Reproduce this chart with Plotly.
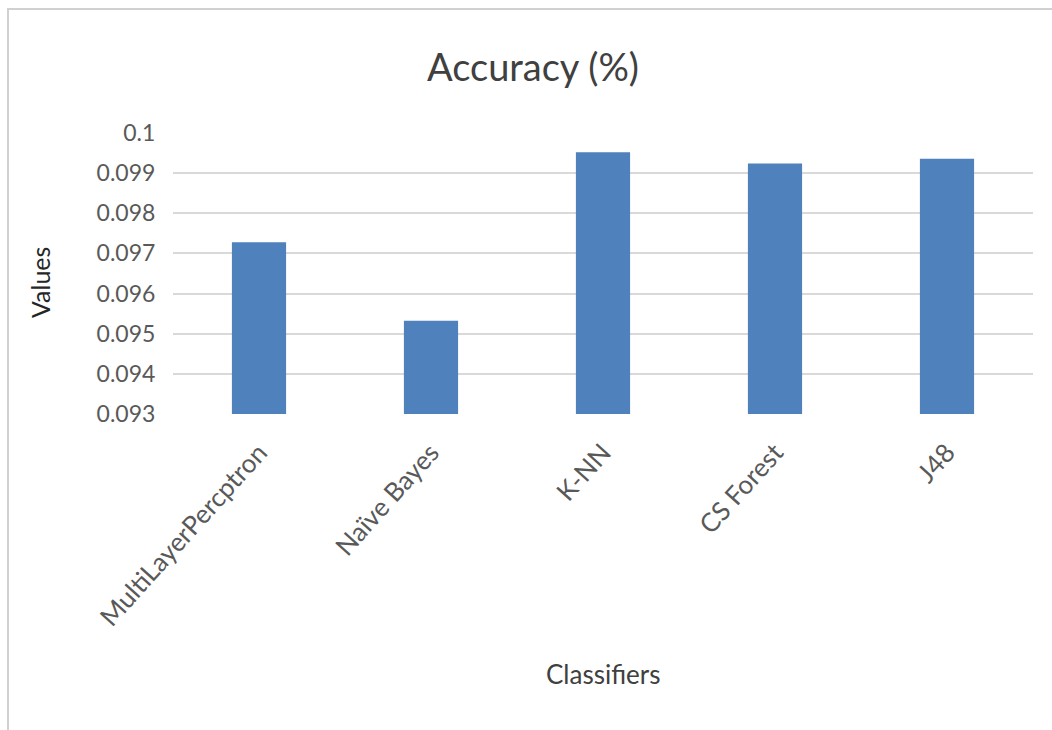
import plotly.graph_objects as go

categories = ["MultiLayerPercptron", "Naïve Bayes", "K-NN", "CS Forest", "J48"]
values = [0.09728, 0.09532, 0.09952, 0.09924, 0.09936]
y_ticks = [0.093, 0.094, 0.095, 0.096, 0.097, 0.098, 0.099, 0.1]
y_tick_labels = ["0.093", "0.094", "0.095", "0.096", "0.097", "0.098", "0.099", "0.1"]

W, H = 1052, 730
ml, mr, mt, mb = 173, 19, 133, 316
pw, ph = W - ml - mr, H - mt - mb

fig = go.Figure()
fig.add_trace(go.Bar(x=categories, y=values, marker=dict(color="#4f81bd", line=dict(width=0)),
                     width=0.315))

font_family = "Lato, Open Sans, sans-serif"
fig.update_layout(
    width=W, height=H,
    margin=dict(l=ml, r=mr, t=mt, b=mb),
    paper_bgcolor="white", plot_bgcolor="white",
    showlegend=False,
    font=dict(family=font_family, color="#595959"),
    title=dict(text="Accuracy (%)", x=533 / W, xanchor="center", y=1 - 68 / H, yanchor="middle",
               font=dict(size=38, color="#404040", family=font_family)),
    xaxis=dict(tickangle=-48, tickfont=dict(size=26, color="#595959"), showgrid=False,
               showline=False, ticks="outside", ticklen=12, tickcolor="rgba(0,0,0,0)", automargin=False),
    yaxis=dict(range=[0.093, 0.1], tickvals=y_ticks, ticktext=y_tick_labels,
               tickfont=dict(size=23, color="#595959"), showgrid=True, gridcolor="#d9d9d9", gridwidth=1.5,
               zeroline=False, showline=False, ticks="outside", ticklen=12, tickcolor="rgba(0,0,0,0)",
               automargin=False),
)
fig.add_annotation(text="Classifiers", xref="paper", yref="paper", x=(603 - ml) / pw, y=-(674 - (mt + ph)) / ph,
                   showarrow=False, font=dict(size=26, color="#404040", family=font_family), yanchor="middle")
fig.add_annotation(text="Values", xref="paper", yref="paper", x=-(ml - 40) / pw, y=(mt + ph - 283) / ph,
                   showarrow=False, textangle=-90, font=dict(size=25, color="#262626", family=font_family),
                   xanchor="center", yanchor="middle")

# outer frame
fig.add_shape(type="rect", xref="paper", yref="paper",
              x0=(8 - ml) / pw, x1=(1060 - ml) / pw,
              y0=-(740 - (mt + ph)) / ph, y1=(mt + ph - 9) / ph,
              line=dict(color="#d0d0d0", width=2), fillcolor="rgba(0,0,0,0)", layer="below")

fig.write_html("out.html")
